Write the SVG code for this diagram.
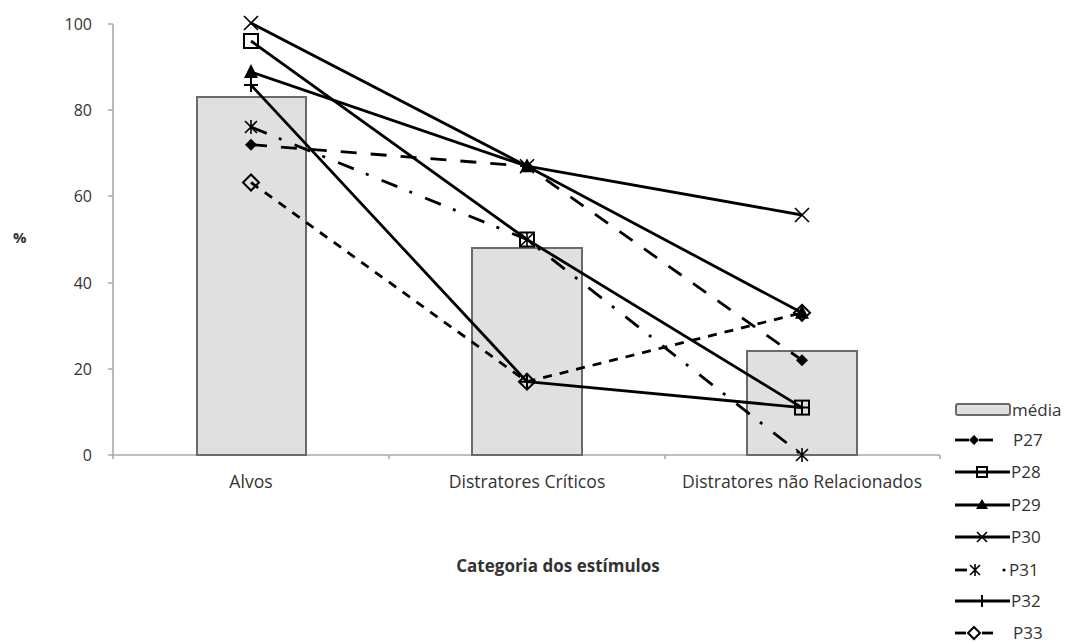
<svg xmlns="http://www.w3.org/2000/svg" width="1068" height="643" viewBox="0 0 1068 643">
<style>
text{font-family:"Open Sans","Noto Sans","Liberation Sans",sans-serif;fill:#333}
.tick{font-size:16px;text-anchor:end}
.cat{font-size:17.6px;text-anchor:middle}
.leg{font-size:17px}
.axis{stroke:#aaa;stroke-width:1.6;fill:none}
.bar{fill:#e0e0e0;stroke:#6a6a6a;stroke-width:2}
.ln{fill:none;stroke:#000;stroke-width:2.8;stroke-linejoin:round}
.d27{stroke-dasharray:16 14}
.d31{stroke-dasharray:17 13 3 14}
.d33{stroke-dasharray:9 8}
.mk{stroke:#000;stroke-width:2;fill:none}
.mf{fill:#000;stroke:none}
.mt{stroke:#000;stroke-width:1.6;fill:none}
</style>
<defs>
<path id="m27" class="mf" d="M0,-6 L6,0 L0,6 L-6,0 Z"/>
<rect id="m28" class="mk" x="-7" y="-7" width="14" height="14"/>
<path id="m29" class="mf" d="M0,-8 L7,6 L-7,6 Z"/>
<path id="m30" class="mt" d="M-7,-7 L7,7 M-7,7 L7,-7"/>
<path id="m31" class="mt" d="M-6,-6 L6,6 M-6,6 L6,-6 M0,-7 L0,7"/>
<path id="m32" class="mk" d="M-7,0 L7,0 M0,-7 L0,7"/>
<path id="m33" class="mk" d="M0,-8 L8,0 L0,8 L-8,0 Z"/>
<path id="l27" class="mf" d="M0,-5 L5,0 L0,5 L-5,0 Z"/>
<rect id="l28" class="mk" x="-5" y="-5" width="10" height="10"/>
<path id="l29" class="mf" d="M0,-6 L6,4 L-6,4 Z"/>
<path id="l30" class="mt" d="M-5,-5 L5,5 M-5,5 L5,-5"/>
<path id="l31" class="mt" d="M-5,-5 L5,5 M-5,5 L5,-5 M0,-6 L0,6"/>
<path id="l32" class="mk" d="M-6,0 L6,0 M0,-6 L0,6"/>
<path id="l33" class="mk" d="M0,-6 L6,0 L0,6 L-6,0 Z"/>
</defs>
<rect width="1068" height="643" fill="#fff"/>

<g id="axes">
<path class="axis" d="M113,24 V455 H940"/>
<path class="axis" d="M108,24 H113 M108,110 H113 M108,196 H113 M108,283 H113 M108,369 H113 M108,455 H113"/>
<path class="axis" d="M113,455 V459 M389,455 V459 M665,455 V459 M940,455 V459"/>
<text class="tick" x="92" y="30">100</text>
<text class="tick" x="92" y="116">80</text>
<text class="tick" x="92" y="202">60</text>
<text class="tick" x="92" y="289">40</text>
<text class="tick" x="92" y="375">20</text>
<text class="tick" x="92" y="461">0</text>
<text x="13" y="243" style="font-size:15px;font-weight:bold">%</text>
<text class="cat" x="251" y="488">Alvos</text>
<text class="cat" x="527" y="488">Distratores Críticos</text>
<text class="cat" x="802" y="488">Distratores não Relacionados</text>
<text x="558" y="572" style="font-size:17px;font-weight:bold;text-anchor:middle">Categoria dos estímulos</text>
</g>

<g id="bars">
<rect class="bar" x="197" y="97" width="109" height="358"/>
<rect class="bar" x="472" y="248" width="110" height="207"/>
<rect class="bar" x="747" y="351" width="110" height="104"/>
</g>

<g id="connectors">
<polyline class="ln d27" points="251,144.7 527,166.2 802,360.2"/>
<polyline class="ln" points="251,41 527,239.5 802,407.6"/>
<polyline class="ln" points="251,72 527,166.2 802,312.8"/>
<polyline class="ln" points="251,23 527,166.2 802,215"/>
<polyline class="ln d31" points="251,127 527,239.5 802,455"/>
<polyline class="ln" points="251,85 527,381.7 802,407.6"/>
<polyline class="ln d33" points="251,182.5 527,381.7 802,312.8"/>
</g>

<g id="P27"><use href="#m27" x="251" y="144.7"/><use href="#m27" x="527" y="166.2"/><use href="#m27" x="802" y="360.2"/></g>
<g id="P28"><use href="#m28" x="251" y="41"/><use href="#m28" x="527" y="239.5"/><use href="#m28" x="802" y="407.6"/></g>
<g id="P29"><use href="#m29" x="251" y="72"/><use href="#m29" x="527" y="166.2"/><use href="#m29" x="802" y="312.8"/></g>
<g id="P30"><use href="#m30" x="251" y="23"/><use href="#m30" x="527" y="166.2"/><use href="#m30" x="802" y="215"/></g>
<g id="P31"><use href="#m31" x="251" y="127"/><use href="#m31" x="527" y="239.5"/><use href="#m31" x="802" y="455"/></g>
<g id="P32"><use href="#m32" x="251" y="85"/><use href="#m32" x="527" y="381.7"/><use href="#m32" x="802" y="407.6"/></g>
<g id="P33"><use href="#m33" x="251" y="182.5"/><use href="#m33" x="527" y="381.7"/><use href="#m33" x="802" y="312.8"/></g>

<g id="legend">
<rect class="bar" x="956" y="404" width="54" height="11" rx="2"/>
<text class="leg" x="1012" y="416">média</text>
<line class="ln" x1="955" y1="440" x2="969" y2="440"/><line class="ln" x1="979" y1="440" x2="993" y2="440"/><use href="#l27" x="974" y="440"/>
<text class="leg" x="1013" y="446">P27</text>
<line class="ln" x1="955" y1="472" x2="1010" y2="472"/><use href="#l28" x="982" y="472"/>
<text class="leg" x="1011" y="478">P28</text>
<line class="ln" x1="955" y1="505" x2="1010" y2="505"/><use href="#l29" x="982" y="505"/>
<text class="leg" x="1011" y="511">P29</text>
<line class="ln" x1="955" y1="537" x2="1010" y2="537"/><use href="#l30" x="982" y="537"/>
<text class="leg" x="1011" y="543">P30</text>
<line class="ln" x1="955" y1="570" x2="967" y2="570"/><use href="#l31" x="975" y="570"/><circle cx="1004" cy="570" r="1.6" fill="#000"/>
<text class="leg" x="1009" y="576">P31</text>
<line class="ln" x1="955" y1="601" x2="1010" y2="601"/><use href="#l32" x="982" y="601"/>
<text class="leg" x="1011" y="607">P32</text>
<line class="ln" x1="955" y1="633" x2="966" y2="633"/><line class="ln" x1="982" y1="633" x2="993" y2="633"/><use href="#l33" x="974" y="633"/>
<text class="leg" x="1013" y="639">P33</text>
</g>
</svg>
